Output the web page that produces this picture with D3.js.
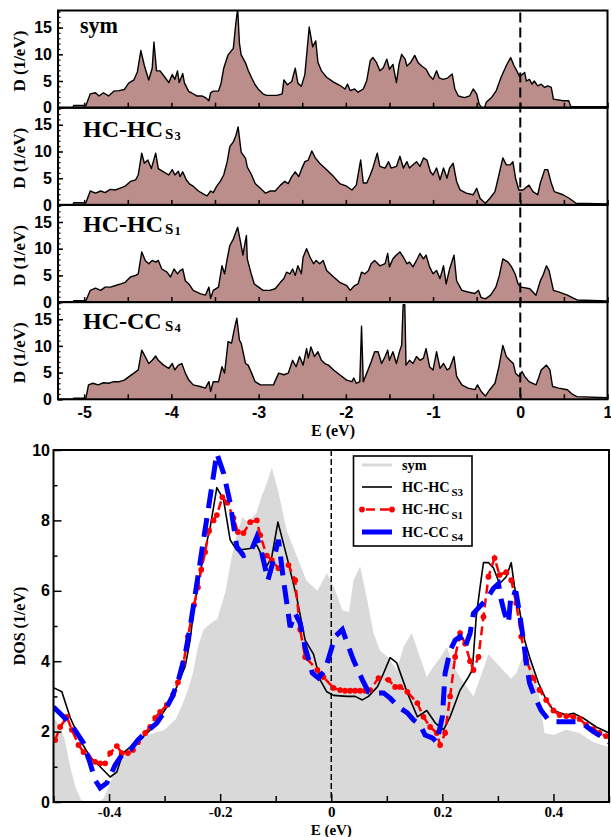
<!DOCTYPE html>
<html><head><meta charset="utf-8">
<script src="https://cdn.jsdelivr.net/npm/d3@7"></script>
<style>
body{margin:0;background:#fff;}
svg{display:block;}
</style></head><body>
<svg id="c" width="611" height="837"></svg>
<script>
// ---------- DATA (top panels: E in eV, D in 1/eV) ----------
const symTop = [[-5.3,0],[-5.13,0],[-5.12,0.4],[-4.98,0.4],[-4.93,2.6],[-4.87,2.8],[-4.83,2.2],[-4.78,2.8],[-4.72,2.2],[-4.66,3.1],[-4.6,3.2],[-4.54,3.4],[-4.49,4.6],[-4.43,5.2],[-4.39,6.7],[-4.35,10.7],[-4.31,7.9],[-4.26,5.2],[-4.22,7.4],[-4.2,12.3],[-4.17,6.9],[-4.13,6.9],[-4.07,5.6],[-4.03,4.7],[-3.99,6.2],[-3.96,5.3],[-3.93,6.9],[-3.91,4.7],[-3.87,6.4],[-3.85,4.6],[-3.8,3.0],[-3.77,2.8],[-3.71,2.2],[-3.65,2.2],[-3.61,1.9],[-3.57,1.3],[-3.55,2.8],[-3.52,3.1],[-3.46,3.1],[-3.43,4.6],[-3.4,7.4],[-3.35,9.9],[-3.29,11.1],[-3.26,16],[-3.24,18.5],[-3.22,12.1],[-3.2,9.9],[-3.15,8.4],[-3.12,7.0],[-3.08,5.6],[-3.04,4.3],[-3.0,3.4],[-2.95,2.6],[-2.91,2.3],[-2.79,2.3],[-2.73,2.6],[-2.71,5.2],[-2.67,4.3],[-2.62,4.9],[-2.58,7.4],[-2.55,4.6],[-2.51,4.0],[-2.47,6.2],[-2.42,15.1],[-2.38,11.4],[-2.345,12.5],[-2.32,8.5],[-2.28,6.9],[-2.22,5.7],[-2.14,4.8],[-2.07,4.2],[-2.01,3.5],[-1.98,4.4],[-1.95,3.2],[-1.9,3.5],[-1.86,2.9],[-1.8,3.5],[-1.76,5.1],[-1.72,8.8],[-1.69,9.4],[-1.65,8.5],[-1.61,6.9],[-1.57,7.5],[-1.53,9.1],[-1.5,7.2],[-1.46,8.1],[-1.42,4.7],[-1.39,8.1],[-1.36,10.0],[-1.32,9.1],[-1.3,7.8],[-1.26,8.4],[-1.21,9.8],[-1.17,8.4],[-1.13,7.8],[-1.08,7.2],[-1.04,6.0],[-1.0,5.3],[-0.96,6.9],[-0.93,5.6],[-0.885,5.3],[-0.83,5.6],[-0.78,6.3],[-0.75,3.5],[-0.71,2.2],[-0.64,1.9],[-0.58,2.2],[-0.54,3.5],[-0.5,2.6],[-0.47,0.6],[-0.44,0],[-0.41,0],[-0.39,1.0],[-0.33,1.9],[-0.275,3.2],[-0.22,5.7],[-0.16,7.9],[-0.11,9.4],[-0.073,7.9],[-0.04,6.9],[-0.01,5.9],[0.02,6.2],[0.05,6.6],[0.07,5.0],[0.105,5.3],[0.135,4.4],[0.16,5.0],[0.2,4.1],[0.24,4.4],[0.28,3.8],[0.315,4.1],[0.355,3.8],[0.38,1.6],[0.49,1.3],[0.555,1.3],[0.58,0.2],[1.0,0.2]];
const s3Top = [[-5.3,0],[-5.13,0],[-5.12,0.4],[-4.98,0.4],[-4.93,2.6],[-4.87,2.2],[-4.81,2.6],[-4.76,2.3],[-4.7,2.9],[-4.64,2.8],[-4.58,3.2],[-4.53,3.5],[-4.47,4.4],[-4.41,4.7],[-4.38,5.6],[-4.34,9.7],[-4.31,7.8],[-4.27,8.4],[-4.23,6.8],[-4.18,9.7],[-4.15,6.8],[-4.09,6.2],[-4.03,5.6],[-3.99,6.6],[-3.96,5.6],[-3.92,6.3],[-3.9,5.3],[-3.87,6.2],[-3.83,4.7],[-3.79,3.9],[-3.75,3.5],[-3.69,2.6],[-3.63,2.0],[-3.59,1.7],[-3.55,2.6],[-3.52,2.3],[-3.48,3.5],[-3.44,4.4],[-3.4,5.6],[-3.36,8.1],[-3.33,10.9],[-3.29,11.8],[-3.26,13.0],[-3.235,14.6],[-3.2,9.9],[-3.15,8.7],[-3.13,7.1],[-3.08,5.6],[-3.04,4.0],[-2.98,3.1],[-2.92,2.2],[-2.87,2.6],[-2.81,2.6],[-2.75,3.7],[-2.7,4.4],[-2.66,4.0],[-2.62,5.3],[-2.58,6.2],[-2.54,5.3],[-2.51,6.6],[-2.47,8.1],[-2.43,8.4],[-2.39,10.1],[-2.35,8.8],[-2.3,7.8],[-2.22,6.6],[-2.14,5.3],[-2.07,4.0],[-1.99,3.5],[-1.93,2.8],[-1.88,3.7],[-1.83,8.4],[-1.8,4.1],[-1.76,4.1],[-1.72,5.6],[-1.69,6.9],[-1.64,9.7],[-1.61,7.2],[-1.55,6.9],[-1.51,8.1],[-1.48,6.9],[-1.42,7.2],[-1.38,9.1],[-1.34,6.9],[-1.3,8.1],[-1.27,6.9],[-1.23,7.5],[-1.19,8.1],[-1.15,7.2],[-1.11,8.8],[-1.07,8.4],[-1.03,6.2],[-1.0,5.6],[-0.96,6.9],[-0.92,4.7],[-0.88,6.9],[-0.84,5.0],[-0.81,6.9],[-0.77,7.8],[-0.73,4.4],[-0.69,2.8],[-0.62,2.2],[-0.54,1.9],[-0.5,3.1],[-0.46,1.2],[-0.4,0.3],[-0.35,1.2],[-0.29,2.5],[-0.245,5.6],[-0.2,8.8],[-0.16,7.5],[-0.115,7.5],[-0.085,8.1],[-0.054,5.0],[-0.016,2.8],[0.03,2.8],[0.1,3.7],[0.145,2.5],[0.2,1.9],[0.23,4.1],[0.28,6.6],[0.315,6.6],[0.355,4.1],[0.39,2.5],[0.49,1.9],[0.565,1.2],[0.64,0.3],[1.0,0.2]];
const s1Top = [[-5.3,0],[-5.13,0],[-5.12,0.25],[-4.98,0.25],[-4.93,2.2],[-4.87,2.6],[-4.81,2.2],[-4.76,2.8],[-4.7,2.8],[-4.64,3.1],[-4.58,3.4],[-4.53,3.7],[-4.47,4.7],[-4.41,5.0],[-4.38,5.3],[-4.34,9.4],[-4.3,7.8],[-4.26,7.2],[-4.22,7.8],[-4.18,7.5],[-4.15,7.8],[-4.11,6.2],[-4.05,5.6],[-4.01,4.7],[-3.97,6.2],[-3.93,5.3],[-3.9,5.9],[-3.87,6.2],[-3.84,4.0],[-3.8,3.4],[-3.75,2.2],[-3.67,1.6],[-3.61,1.3],[-3.57,2.8],[-3.55,0.7],[-3.52,2.2],[-3.46,2.8],[-3.42,6.8],[-3.39,5.3],[-3.36,8.1],[-3.33,10.6],[-3.29,11.8],[-3.24,14.0],[-3.2,10.6],[-3.18,8.8],[-3.14,12.5],[-3.13,8.1],[-3.09,5.6],[-3.05,3.4],[-3.0,2.8],[-2.95,2.2],[-2.87,2.2],[-2.81,2.5],[-2.75,3.7],[-2.71,4.4],[-2.68,5.6],[-2.64,5.3],[-2.61,6.2],[-2.58,5.0],[-2.55,6.8],[-2.51,5.3],[-2.49,8.4],[-2.45,10.0],[-2.41,8.4],[-2.37,7.2],[-2.34,7.8],[-2.3,7.2],[-2.26,7.8],[-2.22,5.9],[-2.14,4.7],[-2.07,3.7],[-1.99,3.1],[-1.95,2.2],[-1.9,3.1],[-1.86,3.4],[-1.82,5.6],[-1.78,5.3],[-1.74,5.9],[-1.71,7.2],[-1.67,7.8],[-1.61,6.8],[-1.55,7.2],[-1.52,9.1],[-1.5,6.6],[-1.46,8.1],[-1.42,8.8],[-1.38,9.4],[-1.34,8.4],[-1.3,7.2],[-1.27,7.5],[-1.23,6.6],[-1.19,7.8],[-1.15,9.1],[-1.11,8.1],[-1.08,8.8],[-1.04,6.6],[-1.0,5.3],[-0.96,5.9],[-0.92,4.4],[-0.88,6.8],[-0.85,3.4],[-0.81,6.2],[-0.76,8.8],[-0.73,4.0],[-0.67,2.2],[-0.6,1.9],[-0.52,1.6],[-0.48,2.2],[-0.45,0.9],[-0.4,0.6],[-0.34,1.3],[-0.28,2.8],[-0.24,5.0],[-0.2,8.1],[-0.14,7.5],[-0.1,6.6],[-0.06,5.3],[-0.025,3.4],[0.014,2.8],[0.11,2.5],[0.18,1.3],[0.23,4.0],[0.26,5.0],[0.3,6.8],[0.33,5.9],[0.38,2.2],[0.44,1.9],[0.54,1.3],[0.65,0.4],[1.0,0.2]];
const s4Top = [[-5.3,0],[-5.13,0],[-5.12,0.2],[-4.98,0.2],[-4.95,2.7],[-4.9,3.0],[-4.84,2.7],[-4.78,3.1],[-4.72,3.0],[-4.66,3.3],[-4.6,3.3],[-4.54,3.6],[-4.49,4.2],[-4.43,4.9],[-4.38,5.5],[-4.34,9.2],[-4.3,8.0],[-4.26,6.7],[-4.22,7.3],[-4.18,8.1],[-4.15,7.3],[-4.09,6.4],[-4.03,5.8],[-3.99,6.7],[-3.96,5.5],[-3.92,6.4],[-3.88,6.7],[-3.84,4.9],[-3.8,3.6],[-3.75,2.7],[-3.67,2.4],[-3.61,2.1],[-3.57,3.3],[-3.55,1.5],[-3.52,3.3],[-3.46,3.3],[-3.42,6.1],[-3.39,4.9],[-3.35,10.8],[-3.31,10.5],[-3.28,13.0],[-3.25,15.2],[-3.22,11.1],[-3.2,10.5],[-3.15,6.7],[-3.12,6.4],[-3.08,4.9],[-3.04,3.3],[-2.98,2.7],[-2.91,2.7],[-2.83,2.7],[-2.77,4.9],[-2.71,4.6],[-2.66,4.9],[-2.61,7.3],[-2.57,6.1],[-2.53,8.0],[-2.49,6.4],[-2.45,9.5],[-2.43,7.7],[-2.4,9.8],[-2.36,8.0],[-2.32,8.9],[-2.28,7.3],[-2.24,6.7],[-2.2,6.4],[-2.14,5.5],[-2.07,4.6],[-1.99,3.6],[-1.93,3.3],[-1.91,4.0],[-1.88,3.0],[-1.84,3.3],[-1.82,13.7],[-1.8,3.3],[-1.76,4.9],[-1.71,7.0],[-1.67,8.9],[-1.63,8.9],[-1.59,6.7],[-1.55,8.0],[-1.52,9.2],[-1.5,7.3],[-1.46,8.9],[-1.42,6.7],[-1.38,9.2],[-1.36,10.1],[-1.343,17.7],[-1.324,17.7],[-1.31,6.4],[-1.27,7.3],[-1.23,6.7],[-1.19,8.0],[-1.15,7.3],[-1.11,7.7],[-1.08,9.5],[-1.04,6.1],[-1.0,5.5],[-0.96,8.9],[-0.92,5.8],[-0.88,6.7],[-0.84,5.5],[-0.81,5.8],[-0.76,8.0],[-0.73,4.3],[-0.67,2.7],[-0.6,2.1],[-0.52,1.8],[-0.49,2.7],[-0.45,1.5],[-0.4,0.6],[-0.35,1.8],[-0.29,3.0],[-0.245,6.1],[-0.2,10.1],[-0.16,8.0],[-0.12,7.3],[-0.08,6.7],[-0.054,4.9],[-0.016,4.3],[0.02,5.2],[0.05,4.3],[0.1,3.3],[0.18,2.7],[0.21,4.0],[0.24,5.5],[0.3,6.4],[0.34,5.5],[0.37,2.4],[0.44,2.1],[0.54,1.8],[0.6,0.9],[0.65,0.5],[1.0,0.3]];
const panelNames = ["sym", "HC-HC", "HC-HC", "HC-CC"];
const panelSubs = [null, ["S","3"], ["S","1"], ["S","4"]];
const topXTicks = [-5,-4,-3,-2,-1,0,1];
const topYTicks = [0,5,10,15];

// ---------- DATA (bottom: DOS near the Fermi level) ----------
const symDos = [[-0.5,2.4],[-0.49,2.2],[-0.48,1.8],[-0.47,1.0],[-0.46,0.4],[-0.45,0.05],[-0.44,0],[-0.42,0],[-0.41,0.1],[-0.4,0.45],[-0.39,0.9],[-0.38,1.25],[-0.36,1.65],[-0.34,1.85],[-0.32,1.95],[-0.3,2.05],[-0.28,2.35],[-0.27,2.7],[-0.26,3.1],[-0.25,3.6],[-0.24,4.4],[-0.23,4.9],[-0.215,5.1],[-0.205,5.2],[-0.19,6.0],[-0.18,6.9],[-0.17,7.6],[-0.16,8.1],[-0.15,7.95],[-0.135,8.2],[-0.125,8.7],[-0.115,9.1],[-0.107,9.5],[-0.095,8.8],[-0.08,7.7],[-0.06,6.9],[-0.045,6.3],[-0.025,6.0],[-0.008,6.5],[0.005,6.1],[0.02,5.45],[0.032,5.4],[0.04,6.3],[0.052,6.7],[0.064,5.8],[0.076,4.8],[0.088,4.3],[0.103,4.1],[0.118,3.75],[0.13,4.4],[0.145,4.8],[0.16,4.1],[0.172,3.55],[0.184,3.85],[0.196,4.1],[0.208,4.4],[0.22,3.85],[0.238,3.4],[0.256,3.0],[0.267,3.47],[0.283,4.2],[0.303,3.85],[0.324,3.5],[0.333,3.65],[0.351,4.4],[0.364,3.75],[0.373,3.1],[0.384,1.96],[0.4,1.9],[0.423,2.05],[0.447,1.96],[0.472,1.7],[0.5,1.56]];
const s3Dos = [[-0.5,3.25],[-0.485,3.13],[-0.47,2.4],[-0.452,1.76],[-0.434,1.28],[-0.416,1.0],[-0.398,0.71],[-0.386,0.85],[-0.375,1.39],[-0.357,1.62],[-0.339,1.85],[-0.32,2.13],[-0.296,2.7],[-0.278,3.27],[-0.263,3.85],[-0.254,4.6],[-0.248,5.4],[-0.24,6.2],[-0.23,6.97],[-0.218,7.8],[-0.206,8.93],[-0.194,8.6],[-0.182,7.45],[-0.17,7.15],[-0.146,7.2],[-0.134,7.3],[-0.116,6.7],[-0.107,6.97],[-0.096,7.95],[-0.08,6.97],[-0.062,5.8],[-0.047,4.6],[-0.032,4.2],[-0.02,3.47],[-0.008,3.13],[0.004,3.03],[0.029,3.0],[0.043,3.0],[0.056,2.9],[0.067,3.0],[0.083,3.27],[0.094,3.65],[0.106,4.1],[0.118,3.95],[0.137,3.1],[0.155,2.42],[0.172,2.6],[0.187,2.25],[0.202,2.05],[0.214,2.42],[0.232,3.18],[0.245,3.5],[0.254,3.75],[0.261,5.26],[0.267,6.0],[0.274,6.8],[0.283,6.8],[0.292,6.65],[0.303,6.2],[0.315,6.4],[0.324,6.8],[0.33,6.1],[0.339,5.45],[0.348,4.6],[0.357,4.12],[0.373,3.38],[0.387,2.9],[0.4,2.6],[0.423,2.47],[0.436,2.52],[0.454,2.38],[0.477,2.13],[0.5,1.96]];
const s1Dos = [[-0.497,1.76],[-0.488,2.13],[-0.476,2.42],[-0.467,2.05],[-0.455,1.62],[-0.446,1.42],[-0.437,1.28],[-0.425,1.14],[-0.416,1.1],[-0.407,1.1],[-0.398,1.39],[-0.386,1.59],[-0.377,1.39],[-0.366,1.39],[-0.357,1.48],[-0.348,1.7],[-0.335,1.96],[-0.326,2.13],[-0.317,2.39],[-0.308,2.56],[-0.296,2.76],[-0.285,3.04],[-0.276,3.4],[-0.266,3.95],[-0.258,4.7],[-0.247,5.6],[-0.24,6.1],[-0.234,6.6],[-0.227,7.1],[-0.22,7.7],[-0.212,8.0],[-0.206,8.15],[-0.196,8.66],[-0.187,8.5],[-0.176,8.07],[-0.168,7.67],[-0.158,7.64],[-0.146,7.95],[-0.134,8.0],[-0.128,7.58],[-0.116,7.0],[-0.107,6.87],[-0.095,6.64],[-0.077,6.73],[-0.065,6.3],[-0.056,4.9],[-0.047,4.12],[-0.025,3.75],[-0.014,3.55],[0.004,3.24],[0.016,3.18],[0.025,3.16],[0.034,3.16],[0.043,3.16],[0.052,3.16],[0.061,3.16],[0.07,3.18],[0.085,3.52],[0.103,3.47],[0.115,3.27],[0.124,3.27],[0.137,3.13],[0.155,2.81],[0.166,2.42],[0.178,2.13],[0.19,1.96],[0.196,1.62],[0.205,1.96],[0.214,3.0],[0.223,4.12],[0.232,4.8],[0.241,4.5],[0.25,4.0],[0.256,3.75],[0.265,4.12],[0.274,5.26],[0.283,6.4],[0.294,6.93],[0.303,6.45],[0.315,6.53],[0.324,6.3],[0.333,5.65],[0.342,4.7],[0.351,4.03],[0.364,3.52],[0.375,3.18],[0.387,2.9],[0.4,2.6],[0.411,2.47],[0.423,2.44],[0.436,2.42],[0.447,2.36],[0.459,2.19],[0.472,2.07],[0.483,1.96],[0.495,1.87]];
const s4Dos = [[-0.5,2.7],[-0.482,2.42],[-0.465,2.13],[-0.446,1.67],[-0.434,1.1],[-0.425,0.62],[-0.416,0.4],[-0.404,0.54],[-0.389,1.05],[-0.377,1.33],[-0.362,1.48],[-0.348,1.76],[-0.332,2.0],[-0.314,2.24],[-0.299,2.6],[-0.286,3.0],[-0.275,3.47],[-0.263,4.2],[-0.254,4.97],[-0.241,6.3],[-0.23,7.45],[-0.218,8.66],[-0.206,9.9],[-0.194,9.35],[-0.182,8.5],[-0.17,7.25],[-0.158,7.0],[-0.146,7.07],[-0.134,7.53],[-0.125,7.07],[-0.114,6.3],[-0.104,6.87],[-0.095,7.45],[-0.086,6.3],[-0.08,5.65],[-0.074,4.97],[-0.065,5.36],[-0.056,5.08],[-0.047,4.4],[-0.034,3.66],[-0.023,3.52],[-0.011,3.75],[-0.002,4.23],[0.007,4.7],[0.02,4.9],[0.029,4.5],[0.04,4.03],[0.056,3.47],[0.067,3.13],[0.083,3.1],[0.094,3.1],[0.106,2.95],[0.121,2.7],[0.137,2.53],[0.148,2.33],[0.16,2.19],[0.169,1.9],[0.182,1.82],[0.19,1.7],[0.2,2.42],[0.205,3.66],[0.214,4.3],[0.223,4.6],[0.232,4.7],[0.241,4.4],[0.25,4.8],[0.256,5.36],[0.267,5.55],[0.279,5.74],[0.292,6.07],[0.301,6.2],[0.306,5.74],[0.312,5.36],[0.319,5.08],[0.324,5.97],[0.333,5.93],[0.339,5.36],[0.346,4.6],[0.351,3.95],[0.357,3.38],[0.366,3.0],[0.378,2.6],[0.391,2.33],[0.405,2.28],[0.423,2.28],[0.441,2.28],[0.456,2.19],[0.472,2.0],[0.49,1.82],[0.5,1.7]];
const botXTicks = [-0.4,-0.2,0,0.2,0.4];
const botXMinor = [-0.5,-0.3,-0.1,0.1,0.3,0.5];
const botYTicks = [0,2,4,6,8,10];
const botYMinor = [1,3,5,7,9];
const legendNames = [["sym",null],["HC-HC","S3"],["HC-HC","S1"],["HC-CC","S4"]];

// ---------- DRAW ----------
const svg = d3.select('#c');
const SERIF = "'Liberation Serif','Times New Roman',serif";
const SANS = "'Liberation Sans',Arial,sans-serif";
const topPanels = [symTop, s3Top, s1Top, s4Top];
const TL = 58, TR = 607.5, TT = 10.5, PH = 97.2;
const xT = d3.scaleLinear().domain([-5.3, 1]).range([TL, TR]);
const defs = svg.append('defs');

const labelBase = [33, 137, 232, 329];
topPanels.forEach((data, i) => {
  const y0 = TT + i * PH;
  const yS = d3.scaleLinear().domain([0, 18.2]).range([y0 + PH, y0]);
  const cid = 'clipT' + i;
  defs.append('clipPath').attr('id', cid).append('rect')
    .attr('x', TL).attr('y', y0).attr('width', TR - TL).attr('height', PH);
  const g = svg.append('g').attr('clip-path', `url(#${cid})`);
  g.append('path').datum(data)
    .attr('d', d3.area().x(d => xT(d[0])).y0(yS(0)).y1(d => yS(d[1])))
    .attr('fill', '#bc8e8b');
  g.append('path').datum(data)
    .attr('d', d3.line().x(d => xT(d[0])).y(d => yS(d[1])))
    .attr('fill', 'none').attr('stroke', '#000').attr('stroke-width', 1.4)
    .attr('stroke-linejoin', 'round');

  const ax = svg.append('g').attr('transform', `translate(0,${y0 + PH})`)
    .call(d3.axisBottom(xT).tickValues(d3.range(-5, 1.01, 0.5)).tickSize(-5)
      .tickFormat(''));
  ax.select('.domain').remove();
  ax.selectAll('line').attr('stroke', '#000').attr('stroke-width', 1.5);
  const ayMin = svg.append('g').attr('transform', `translate(${TL},0)`)
    .call(d3.axisLeft(yS).tickValues(d3.range(0, 18.1, 1)).tickSize(-2.5).tickFormat(''));
  ayMin.select('.domain').remove();
  ayMin.selectAll('line').attr('stroke', '#000').attr('stroke-width', 1.2);
  const ay = svg.append('g').attr('transform', `translate(${TL},0)`)
    .call(d3.axisLeft(yS).tickValues(topYTicks).tickSize(-5).tickPadding(6));
  ay.select('.domain').remove();
  ay.selectAll('line').attr('stroke', '#000').attr('stroke-width', 1.5);
  ay.selectAll('text').attr('font-family', SANS).attr('font-weight', 'bold')
    .attr('font-size', 16).attr('fill', '#000');

  svg.append('rect').attr('x', TL).attr('y', y0).attr('width', TR - TL).attr('height', PH)
    .attr('fill', 'none').attr('stroke', '#000').attr('stroke-width', 2);

  svg.append('text').attr('transform', `translate(25,${y0 + PH / 2 + 2}) rotate(-90)`)
    .attr('text-anchor', 'middle').attr('font-family', SERIF).attr('font-weight', 'bold')
    .attr('font-size', 17).text('D (1/eV)');

  const bl = labelBase[i];
  const lbl = svg.append('text').attr('x', i === 0 ? 80 : 83).attr('y', bl)
    .attr('font-family', SERIF).attr('font-weight', 'bold').attr('font-size', 24)
    .text(panelNames[i]);
  if (i === 0) lbl.attr('textLength', 38).attr('lengthAdjust', 'spacingAndGlyphs');
  if (panelSubs[i]) {
    svg.append('text').attr('x', 165).attr('y', bl + 1.8)
      .attr('font-family', SERIF).attr('font-weight', 'bold').attr('font-size', 15)
      .text(panelSubs[i][0]);
    svg.append('text').attr('x', 174.5).attr('y', bl + 3.2)
      .attr('font-family', SERIF).attr('font-weight', 'bold').attr('font-size', 12.5)
      .text(panelSubs[i][1]);
  }
});

svg.append('line').attr('x1', xT(0)).attr('x2', xT(0)).attr('y1', TT + 2).attr('y2', TT + 4 * PH)
  .attr('stroke', '#000').attr('stroke-width', 2).attr('stroke-dasharray', '10,5');

const axL = svg.append('g').attr('transform', `translate(0,${TT + 4 * PH})`)
  .call(d3.axisBottom(xT).tickValues(topXTicks).tickSize(0).tickPadding(7.3)
    .tickFormat(d => String(d)));
axL.select('.domain').remove();
axL.selectAll('text').attr('font-family', SANS).attr('font-weight', 'bold')
  .attr('font-size', 16).attr('fill', '#000');
svg.append('text').attr('x', 333).attr('y', 436).attr('text-anchor', 'middle')
  .attr('font-family', SERIF).attr('font-weight', 'bold').attr('font-size', 16).text('E (eV)');

// ---------- bottom chart ----------
const BL = 53.5, BR = 609, BT = 450, BB = 802;
const xB = d3.scaleLinear().domain([-0.5, 0.5]).range([BL, BR]);
const yB = d3.scaleLinear().domain([0, 10]).range([BB, BT]);
defs.append('clipPath').attr('id', 'clipB').append('rect')
  .attr('x', BL).attr('y', BT).attr('width', BR - BL).attr('height', BB - BT);
const gb = svg.append('g').attr('clip-path', 'url(#clipB)');
gb.append('path').datum(symDos)
  .attr('d', d3.area().x(d => xB(d[0])).y0(yB(0)).y1(d => yB(d[1])))
  .attr('fill', '#d9d9d9');
gb.append('line').attr('x1', xB(0)).attr('x2', xB(0)).attr('y1', BT).attr('y2', BB)
  .attr('stroke', '#000').attr('stroke-width', 1.5).attr('stroke-dasharray', '6,3');
const lineB = d3.line().x(d => xB(d[0])).y(d => yB(d[1]));
gb.append('path').datum(s3Dos).attr('d', lineB).attr('fill', 'none')
  .attr('stroke', '#000').attr('stroke-width', 1.6).attr('stroke-linejoin', 'round');
gb.append('path').datum(s1Dos).attr('d', lineB).attr('fill', 'none')
  .attr('stroke', '#ff0000').attr('stroke-width', 2.5).attr('stroke-dasharray', '9,5');
gb.selectAll('circle.s1').data(s1Dos).enter().append('circle').attr('class', 's1')
  .attr('cx', d => xB(d[0])).attr('cy', d => yB(d[1])).attr('r', 2.9).attr('fill', '#ff0000');
gb.append('path').datum(s4Dos).attr('d', lineB).attr('fill', 'none')
  .attr('stroke', '#0000ff').attr('stroke-width', 5).attr('stroke-dasharray', '19,10');

function styleAxis(g) {
  g.select('.domain').remove();
  g.selectAll('line').attr('stroke', '#000').attr('stroke-width', 1.5);
}
const bxm = svg.append('g').attr('transform', `translate(0,${BB})`)
  .call(d3.axisBottom(xB).tickValues(botXMinor).tickSize(-6).tickFormat(''));
styleAxis(bxm);
const bx = svg.append('g').attr('transform', `translate(0,${BB})`)
  .call(d3.axisBottom(xB).tickValues(botXTicks).tickSize(-8).tickPadding(4)
    .tickFormat(d => d === 0 ? '0' : d.toFixed(1)));
styleAxis(bx);
bx.selectAll('text').attr('font-family', SERIF).attr('font-weight', 'bold')
  .attr('font-size', 15).attr('fill', '#000');
const bym = svg.append('g').attr('transform', `translate(${BL},0)`)
  .call(d3.axisLeft(yB).tickValues(botYMinor).tickSize(-4).tickFormat(''));
styleAxis(bym);
const by = svg.append('g').attr('transform', `translate(${BL},0)`)
  .call(d3.axisLeft(yB).tickValues(botYTicks).tickSize(-8).tickPadding(3.5));
styleAxis(by);
by.selectAll('text').attr('font-family', SANS).attr('font-weight', 'bold')
  .attr('font-size', 16).attr('fill', '#000');
svg.append('rect').attr('x', BL).attr('y', BT).attr('width', BR - BL).attr('height', BB - BT)
  .attr('fill', 'none').attr('stroke', '#000').attr('stroke-width', 2);
svg.append('text').attr('transform', `translate(25,${(BT + BB) / 2}) rotate(-90)`)
  .attr('text-anchor', 'middle').attr('font-family', SERIF).attr('font-weight', 'bold')
  .attr('font-size', 16).text('DOS (1/eV)');
svg.append('text').attr('x', xB(0)).attr('y', 834.5).attr('text-anchor', 'middle')
  .attr('font-family', SERIF).attr('font-weight', 'bold').attr('font-size', 15).text('E (eV)');

// legend
const lg = svg.append('g');
lg.append('rect').attr('x', 353.5).attr('y', 456).attr('width', 118.5).attr('height', 90)
  .attr('fill', '#fff').attr('stroke', '#000').attr('stroke-width', 1.6);
const legY = [465, 487, 509.5, 532];
const legStyles = [
  {stroke: '#d9d9d9', w: 3, dash: null},
  {stroke: '#000', w: 1.6, dash: null},
  {stroke: '#ff0000', w: 2.5, dash: '9,5', dots: true},
  {stroke: '#0000ff', w: 5, dash: null}
];
legendNames.forEach((n, i) => {
  const y = legY[i], s = legStyles[i];
  const ln = lg.append('line').attr('x1', 362).attr('x2', 392).attr('y1', y).attr('y2', y)
    .attr('stroke', s.stroke).attr('stroke-width', s.w);
  if (s.dash) ln.attr('stroke-dasharray', s.dash).attr('stroke-dashoffset', -4);
  if (s.dots) {
    [362, 392].forEach(cx => lg.append('circle').attr('cx', cx).attr('cy', y).attr('r', 2.9)
      .attr('fill', '#ff0000'));
  }
  lg.append('text').attr('x', 402).attr('y', y + 4.5).attr('font-family', SERIF)
    .attr('font-weight', 'bold').attr('font-size', 14.3).text(n[0]);
  if (n[1]) {
    lg.append('text').attr('x', 451.5).attr('y', y + 9).attr('font-family', SERIF)
      .attr('font-weight', 'bold').attr('font-size', 11).text(n[1]);
  }
});
</script>
</body></html>
